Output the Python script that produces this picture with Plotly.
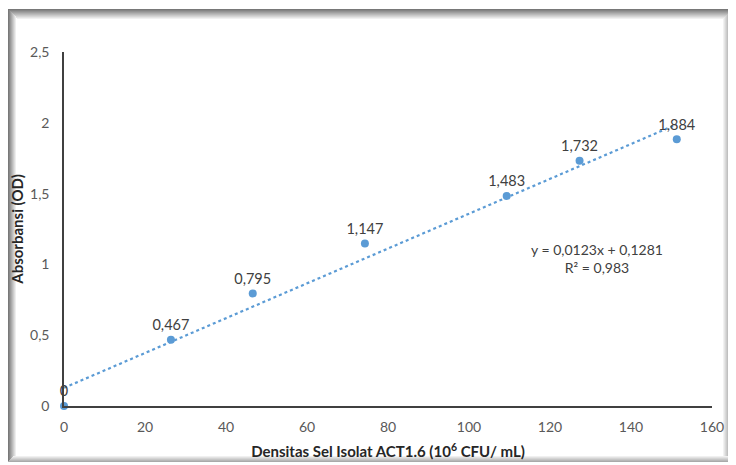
import plotly.graph_objects as go

# ---- data ----
density = [0, 26.4, 46.6, 74.3, 109.3, 127.3, 151.3]
absorbance = [0, 0.467, 0.795, 1.147, 1.483, 1.732, 1.884]
slope = 0.0123
intercept = 0.1281
r_squared = 0.983
x_ticks = [0, 20, 40, 60, 80, 100, 120, 140, 160]
y_ticks = [0, 0.5, 1, 1.5, 2, 2.5]

# page body has an 8px margin; figure sized to fit the 736x465 window
OFF = 8
W, H = 736 - OFF, 465 - OFF
L, R, T, B = 64 - OFF, 24, 52 - OFF, 59
PW, PH = W - L - R, H - T - B


def px(xs):
    return (xs - OFF - L) / PW


def py(ys):
    return 1 - (ys - OFF - T) / PH


def fmt(v):
    if v == 0:
        return "0"
    return f"{v:.3f}".replace(".", ",")


labels = [fmt(v) for v in absorbance]
trend_x = [density[0], density[-1]]
trend_y = [slope * x + intercept for x in trend_x]

blue = "#5B9BD5"
FONT = "Lato, Open Sans, sans-serif"

fig = go.Figure()
fig.add_trace(go.Scatter(
    x=trend_x, y=trend_y, mode="lines",
    line=dict(color=blue, width=2.2, dash="dot"),
    hoverinfo="skip", showlegend=False, cliponaxis=False))
fig.add_trace(go.Scatter(
    x=density, y=absorbance, mode="markers+text",
    marker=dict(color=blue, size=8),
    text=labels, textposition="top center",
    textfont=dict(family=FONT, size=14.5, color="#404040"),
    cliponaxis=False, showlegend=False))

eq_text = (f"y = {str(slope).replace('.', ',')}x + {str(intercept).replace('.', ',')}"
           f"<br>R² = {str(r_squared).replace('.', ',')}")
fig.add_annotation(x=131.5, y=1.04, xref="x", yref="y", text=eq_text,
                   showarrow=False, align="center",
                   font=dict(family=FONT, size=14, color="#404040"))

# frame shadow (screen coordinates)
shapes = []
steps = 10
for i in range(steps):
    g = int(120 + (255 - 120) * (i / steps))
    col = f"rgb({g},{g},{g})"
    shapes.append(dict(type="rect", xref="paper", yref="paper",
                       x0=px(8 + i), x1=px(733 - i), y0=py(9 + i), y1=py(10 + i),
                       fillcolor=col, line=dict(width=0), layer="below"))
for i in range(8):
    g = int(120 + (255 - 120) * (i / 8))
    col = f"rgb({g},{g},{g})"
    shapes.append(dict(type="rect", xref="paper", yref="paper",
                       x0=px(8 + i), x1=px(9 + i), y0=py(9 + i), y1=py(462),
                       fillcolor=col, line=dict(width=0), layer="below"))
for i in range(steps):
    g = int(130 + (255 - 130) * (i / steps))
    col = f"rgb({g},{g},{g})"
    shapes.append(dict(type="rect", xref="paper", yref="paper",
                       x0=px(732 - i), x1=px(733 - i), y0=py(9 + i), y1=py(462),
                       fillcolor=col, line=dict(width=0), layer="below"))
for i in range(6):
    g = int(170 + (255 - 170) * (i / 6))
    col = f"rgb({g},{g},{g})"
    shapes.append(dict(type="rect", xref="paper", yref="paper",
                       x0=px(8 + i), x1=px(733 - i), y0=py(462 - i), y1=py(461 - i),
                       fillcolor=col, line=dict(width=0), layer="below"))

axis_font = dict(family=FONT, size=14, color="#595959")
title_font = dict(family=FONT, size=15, color="#262626")

fig.update_layout(
    width=W, height=H,
    margin=dict(l=L, r=R, t=T, b=B, autoexpand=False),
    paper_bgcolor="white", plot_bgcolor="white",
    separators=",.",
    shapes=shapes,
    xaxis=dict(range=[0, 160], tickvals=x_ticks, showgrid=False, zeroline=False,
               showline=True, linecolor="#404040", linewidth=1.5,
               ticks="", tickfont=axis_font, ticklabelstandoff=7, automargin=False,
               title=dict(text="<b>Densitas Sel Isolat ACT1.6 (10<sup>6</sup> CFU/ mL)</b>",
                          font=title_font, standoff=13)),
    yaxis=dict(range=[0, 2.5], tickvals=y_ticks, showgrid=False, zeroline=False,
               showline=True, linecolor="#404040", linewidth=1.5,
               ticks="", tickfont=axis_font, ticklabelstandoff=10, automargin=False,
               title=dict(text="<b>Absorbansi (OD)</b>", font=title_font, standoff=10)),
)

fig.write_html("out.html")
